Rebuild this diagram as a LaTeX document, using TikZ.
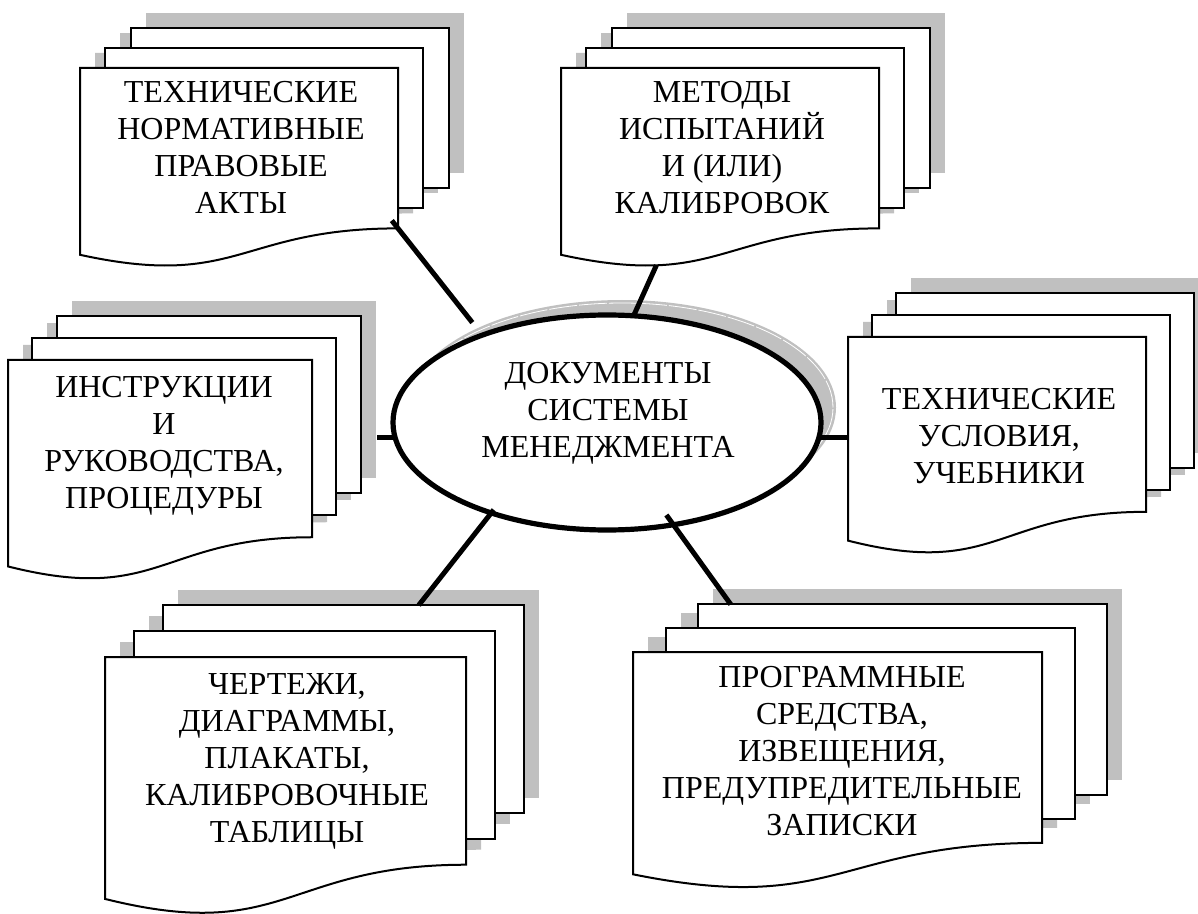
\documentclass[tikz,border=0pt]{standalone}
\usepackage{fontspec}
\setmainfont{Liberation Serif}
\usetikzlibrary{shapes.geometric}

\definecolor{shadowgray}{RGB}{192,192,192}

\tikzset{
	pagebox/.style={rectangle, inner sep=0pt, outer sep=0pt, anchor=north west},
	page/.style={draw=black, fill=white, line width=1pt},
	docshadow/.style={fill=shadowgray},
	doctext/.style={align=center, anchor=base, inner sep=0pt,
		font=\fontsize{16pt}{18.5pt}\selectfont},
	hub/.style={ellipse, inner sep=0pt, outer sep=0pt,
		minimum width=214pt, minimum height=107.5pt},
	link/.style={line width=2.5pt}
}

% stack of three pages with shadow: name, x, y (top left of front page), width, height
\newcommand{\multidoc}[5]{%
	\pgfmathsetmacro{\mdx}{0.08*#4}%
	\pgfmathsetmacro{\mdy}{0.10*#5}%
	\pgfmathsetmacro{\mdh}{0.802*#5}%
	\pgfmathsetmacro{\mxr}{#2+#4}%
	\pgfmathsetmacro{\mxm}{#2+0.5*#4}%
	\pgfmathsetmacro{\myr}{#3+0.802*#5}%
	\pgfmathsetmacro{\myc}{#3+1.108*#5}%
	\pgfmathsetmacro{\myl}{#3+0.934*#5}%
	\node [pagebox, minimum width=#4*0.5pt, minimum height=\mdh*0.5pt] (#1) at (#2,#3) {};
	\node [pagebox, minimum width=#4*0.5pt, minimum height=\mdh*0.5pt] (#1-mid) at (#2+\mdx,#3-\mdy) {};
	\node [pagebox, minimum width=#4*0.5pt, minimum height=\mdh*0.5pt] (#1-back) at (#2+2*\mdx,#3-2*\mdy) {};
	\coordinate (#1-dip) at (#2+0.3*#4,#3+0.986*#5);
	% shadows
	\fill [docshadow] ([shift={(15,-15)}]#1-back.north west) rectangle ([shift={(15,-15)}]#1-back.south east);
	\fill [docshadow] ([shift={(15,-15)}]#1-mid.north west) rectangle ([shift={(15,-15)}]#1-mid.south east);
	\fill [docshadow, shift={(15,-15)}] (#2,#3) -- (\mxr,#3) -- (\mxr,\myr)
		.. controls (\mxm,\myr) and (\mxm,\myc) .. (#2,\myl) -- cycle;
	% pages
	\draw [page] (#1-back.north west) rectangle (#1-back.south east);
	\draw [page] (#1-mid.north west) rectangle (#1-mid.south east);
	\draw [page] (#2,#3) -- (\mxr,#3) -- (\mxr,\myr)
		.. controls (\mxm,\myr) and (\mxm,\myc) .. (#2,\myl) -- cycle;
}

\begin{document}
\begin{tikzpicture}[x=0.5pt,y=-0.5pt]
	\path [fill=white, use as bounding box] (0,0) rectangle (1198,914);

	\multidoc{tnpa}{80}{68}{318}{200}
	\multidoc{metod}{561}{68}{318}{200}
	\multidoc{instr}{8}{360}{304}{221}
	\multidoc{tu}{848}{337}{298}{218}
	\multidoc{cherch}{105}{657}{361}{259}
	\multidoc{progr}{633}{652}{409}{238}

	% base = last line
	\node [doctext] (tnpa-txt) at (241,214) {ТЕХНИЧЕСКИЕ\\НОРМАТИВНЫЕ\\ПРАВОВЫЕ\\АКТЫ};
	\node [doctext] (metod-txt) at (722,214) {МЕТОДЫ\\ИСПЫТАНИЙ\\И (ИЛИ)\\КАЛИБРОВОК};
	\node [doctext] (instr-txt) at (164,508) {ИНСТРУКЦИИ\\И\\РУКОВОДСТВА,\\ПРОЦЕДУРЫ};
	\node [doctext] (tu-txt) at (999,483) {ТЕХНИЧЕСКИЕ\\УСЛОВИЯ,\\УЧЕБНИКИ};
	\node [doctext] (cherch-txt) at (287,842) {ЧЕРТЕЖИ,\\ДИАГРАММЫ,\\ПЛАКАТЫ,\\КАЛИБРОВОЧНЫЕ\\ТАБЛИЦЫ};
	\node [doctext] (progr-txt) at (842,835) {ПРОГРАММНЫЕ\\СРЕДСТВА,\\ИЗВЕЩЕНИЯ,\\ПРЕДУПРЕДИТЕЛЬНЫЕ\\ЗАПИСКИ};

	% centre
	\node [hub, fill=shadowgray] (ell-sh) at (622,407.5) {};
	\node [hub, draw=white, line width=0.4pt, dash pattern=on 14pt off 1pt,
		minimum width=211pt, minimum height=104.5pt] (ell-rim) at (622,407.5) {};
	\node [hub, draw, fill=white, line width=2.6pt] (ell) at (607,422.5) {};
	\node [doctext] (ell-txt) at (608,457) {ДОКУМЕНТЫ\\СИСТЕМЫ\\МЕНЕДЖМЕНТА};

	\draw [link, shorten <=-5pt, shorten >=8pt] (tnpa.south east) -- (ell.145);
	\draw [link] (metod-dip) -- (ell.76);
	\draw [link, shorten >=8pt] (ell.184) -- (ell.184 -| instr-back.east);
	\draw [link] (ell.356) -- (ell.356 -| tu.west);
	\draw [link, shorten <=-2pt] (ell.218) -- (cherch-back.54);
	\draw [link, shorten <=-6pt] (ell.303) -- (progr-back.151);
\end{tikzpicture}
\end{document}
